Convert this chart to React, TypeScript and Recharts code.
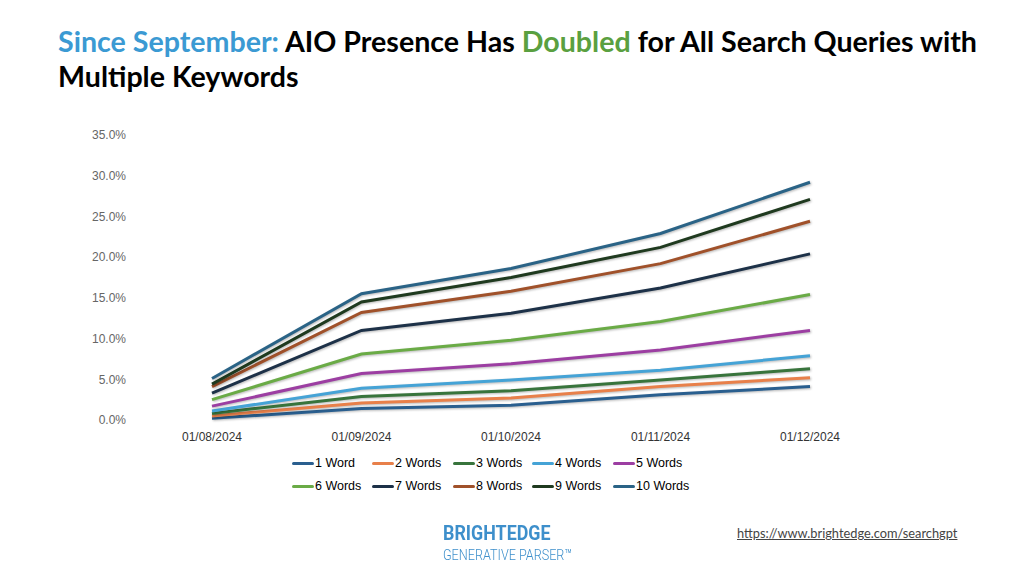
import React from "react";
import { LineChart, Line, XAxis, YAxis } from "recharts";

// Month labels on the x axis
const months = ["01/08/2024", "01/09/2024", "01/10/2024", "01/11/2024", "01/12/2024"];

// AIO presence (%) per keyword count
const word1 = [0.2, 1.4, 1.8, 3.1, 4.1];
const words2 = [0.5, 2.1, 2.7, 4.1, 5.2];
const words3 = [0.8, 2.9, 3.6, 4.9, 6.3];
const words4 = [1.1, 3.9, 4.9, 6.1, 7.9];
const words5 = [1.7, 5.7, 6.9, 8.6, 11.0];
const words6 = [2.5, 8.1, 9.8, 12.1, 15.4];
const words7 = [3.3, 11.0, 13.1, 16.2, 20.4];
const words8 = [4.1, 13.2, 15.8, 19.2, 24.4];
const words9 = [4.4, 14.5, 17.5, 21.2, 27.1];
const words10 = [5.1, 15.5, 18.6, 22.9, 29.2];

const yTicks = [0, 5, 10, 15, 20, 25, 30, 35];

const seriesList = [
  { key: "w1", name: "1 Word", values: word1, color: "#2a5f8f" },
  { key: "w2", name: "2 Words", values: words2, color: "#e8804a" },
  { key: "w3", name: "3 Words", values: words3, color: "#38743c" },
  { key: "w4", name: "4 Words", values: words4, color: "#45a3d6" },
  { key: "w5", name: "5 Words", values: words5, color: "#9c3ea2" },
  { key: "w6", name: "6 Words", values: words6, color: "#6aab46" },
  { key: "w7", name: "7 Words", values: words7, color: "#1d3148" },
  { key: "w8", name: "8 Words", values: words8, color: "#a0512a" },
  { key: "w9", name: "9 Words", values: words9, color: "#1f3a1f" },
  { key: "w10", name: "10 Words", values: words10, color: "#2a6386" },
];

const data = months.map((m, i) => {
  const row: Record<string, string | number> = { month: m };
  seriesList.forEach((s) => {
    row[s.key] = s.values[i];
  });
  return row;
});

const axisFont = "'Liberation Sans', Arial, sans-serif";

export default function App() {
  return (
    <div
      style={{
        position: "absolute",
        left: 0,
        top: 0,
        width: 1024,
        height: 579,
        background: "#fff",
        overflow: "hidden",
      }}
    >
      <div
        style={{
          position: "absolute",
          left: 58,
          top: 24,
          width: 966,
          whiteSpace: "nowrap",
          fontFamily: "Lato, 'Open Sans', sans-serif",
          fontWeight: 700,
          fontSize: 28.6,
          lineHeight: "35px",
          color: "#000",
        }}
      >
        <span style={{ color: "#3b9ad3" }}>Since September:</span> AIO Presence Has{" "}
        <span style={{ color: "#5aa040" }}>Doubled</span> for All Search Queries with
        <br />
        Multiple Keywords
      </div>

      <div style={{ position: "absolute", left: 0, top: 0 }}>
        <LineChart
          width={1024}
          height={579}
          data={data}
          margin={{ top: 135, right: 214, bottom: 129, left: 132 }}
        >
          <XAxis
            dataKey="month"
            axisLine={false}
            tickLine={false}
            tickMargin={6}
            height={30}
            interval={0}
            tick={{ fill: "#333", fontSize: 12, fontFamily: axisFont }}
          />
          <YAxis
            domain={[0, 35]}
            ticks={yTicks}
            axisLine={false}
            tickLine={false}
            width={80}
            tickMargin={80}
            tickFormatter={(v: number) => `${v.toFixed(1)}%`}
            tick={{ fill: "#666", fontSize: 12, fontFamily: axisFont }}
          />
          {seriesList.map((s) => (
            <Line
              key={s.key}
              dataKey={s.key}
              name={s.name}
              stroke={s.color}
              strokeWidth={3}
              dot={false}
              activeDot={false}
              isAnimationActive={false}
              style={{ filter: "drop-shadow(1px 1.5px 1px rgba(0,0,0,0.28))" }}
            />
          ))}
        </LineChart>
      </div>

      {/* legend, two rows of five */}
      <div
        style={{
          position: "absolute",
          left: 292,
          top: 455,
          width: 420,
          display: "grid",
          gridTemplateColumns: "80px 81px 79px 81px 80px",
          rowGap: 7,
          fontFamily: axisFont,
          fontSize: 12.5,
          color: "#000",
        }}
      >
        {seriesList.map((s) => (
          <div key={s.key} style={{ display: "flex", alignItems: "center", height: 16 }}>
            <span
              style={{
                display: "inline-block",
                width: 22,
                height: 3,
                borderRadius: 1.5,
                background: s.color,
                marginRight: 1,
              }}
            />
            <span>{s.name}</span>
          </div>
        ))}
      </div>

      <div
        style={{
          position: "absolute",
          left: 443,
          top: 521,
          lineHeight: "24px",
          fontFamily: "Roboto, sans-serif",
          fontWeight: 700,
          fontSize: 21,
          color: "#3d8fcb",
          whiteSpace: "nowrap",
          transform: "scaleX(0.85)",
          transformOrigin: "0 0",
        }}
      >
        BRIGHTEDGE
      </div>
      <div
        style={{
          position: "absolute",
          left: 443,
          top: 547,
          lineHeight: "17px",
          fontFamily: "Roboto, sans-serif",
          fontWeight: 300,
          fontSize: 15,
          color: "#3d8fcb",
          whiteSpace: "nowrap",
          transform: "scaleX(0.84)",
          transformOrigin: "0 0",
        }}
      >
        GENERATIVE PARSER™
      </div>

      <div
        style={{
          position: "absolute",
          left: 737,
          top: 525,
          fontFamily: "Lato, 'Open Sans', sans-serif",
          fontSize: 12.8,
          color: "#444",
          textDecoration: "underline",
        }}
      >
        https://www.brightedge.com/searchgpt
      </div>
    </div>
  );
}
